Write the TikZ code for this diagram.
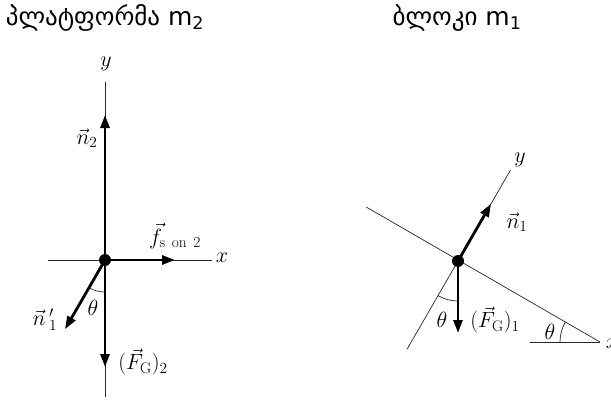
\RequirePackage{fix-cm}
\documentclass[tikz,border=0pt]{standalone}
\usepackage{fontspec}
\newfontfamily\geofont{DejaVu Sans}
\usepackage{tikz}
\usetikzlibrary{arrows.meta,positioning,calc}

\begin{document}
\begin{tikzpicture}[x=1pt, y=1pt]
    % Define styles
    \tikzstyle{axis} = [line width=0.7pt, draw=black!85]
    \tikzstyle{force} = [line width=2.8pt, -{Triangle[length=13pt, width=9pt]}]
    \tikzstyle{dot} = [circle, fill=black, inner sep=0pt, minimum size=12pt]
    \tikzstyle{lbl} = [font=\fontsize{22}{26}\selectfont, inner sep=1pt]
    \tikzstyle{headline} = [font=\geofont\fontsize{25}{30}\selectfont]

    \useasboundingbox (0,0) rectangle (611,400);

    % Titles
    \node[headline] (titleL) at (105,382) {პლატფორმა m\textsubscript{2}};
    \node[headline] (titleR) at (457,382) {ბლოკი m\textsubscript{1}};

    % Platform m2
    \coordinate (O2) at (105,140);
    \coordinate (yTop) at (105,318);
    \coordinate (yBot) at (105,3);
    \coordinate (xLeft) at (48,140);
    \coordinate (xRight) at (212,140);
    \coordinate (n2tip) at (105,285);
    \coordinate (ftip) at (175,140);
    \coordinate (n1ptip) at ($(O2)+(240:80)$);
    \coordinate (FG2tip) at (105,33);

    \draw[axis] (yBot) -- (yTop);
    \draw[axis] (xLeft) -- (xRight);
    \node[lbl] (ylabL) at (106,336) {$y$};
    \node[lbl] (xlabL) at (222,142) {$x$};

    \draw[force] (O2) -- (n2tip);
    \draw[force] (O2) -- (ftip);
    \draw[force] (O2) -- (n1ptip);
    \draw[force] (O2) -- (FG2tip);
    \draw[axis] ($(O2)+(240:32)$) arc[start angle=240, end angle=270, radius=32];

    \node[lbl] (n2lab) at (87,262) {$\vec{n}_2$};
    \node[lbl] (flab) at (175,164) {$\vec{f}_{\mathrm{s\ on\ 2}}$};
    \node[lbl] (n1plab) at (45,80) {$\vec{n}\,'_1$};
    \node[lbl] (thL) at (93,92) {$\theta$};
    \node[lbl] (FG2lab) at (143,38) {$(\vec{F}_{\mathrm{G}})_2$};
    \node[dot] (dotL) at (O2) {};

    % Block m1
    \coordinate (O1) at (458,139);
    \coordinate (corner) at (600,58);
    \coordinate (incTop) at ($(corner)+(150:270)$);
    \coordinate (horLeft) at (530,58);
    \coordinate (yTopR) at ($(O1)+(60:105)$);
    \coordinate (yBotR) at ($(O1)+(240:102)$);
    \coordinate (n1tip) at ($(O1)+(60:66)$);
    \coordinate (FG1tip) at (458,67);

    \draw[axis] (incTop) -- (corner);
    \draw[axis] (horLeft) -- (corner);
    \draw[axis] (yBotR) -- (yTopR);
    \node[lbl] (ylabR) at (520,240) {$y$};
    \node[lbl] (xlabR) at (612,56) {$x$};

    \draw[force] (O1) -- (n1tip);
    \draw[force] (O1) -- (FG1tip);
    \draw[axis] ($(O1)+(240:40)$) arc[start angle=240, end angle=270, radius=40];
    \draw[axis] ($(corner)+(150:40)$) arc[start angle=150, end angle=180, radius=40];

    \node[lbl] (n1lab) at (517,178) {$\vec{n}_1$};
    \node[lbl] (thR) at (442,80) {$\theta$};
    \node[lbl] (FG1lab) at (495,80) {$(\vec{F}_{\mathrm{G}})_1$};
    \node[lbl] (thC) at (550,68) {$\theta$};
    \node[dot] (dotR) at (O1) {};
\end{tikzpicture}
\end{document}
